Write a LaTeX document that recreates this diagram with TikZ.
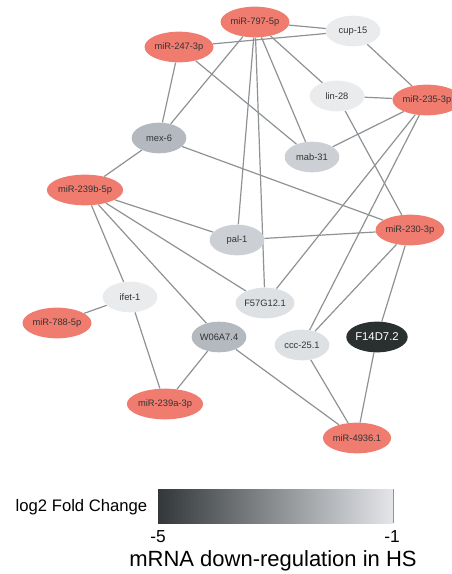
\documentclass[tikz,border=0pt]{standalone}
\usepackage{fontspec}
\setmainfont{Liberation Sans}
\usetikzlibrary{shapes, backgrounds}
\definecolor{mirred}{RGB}{240, 124, 112}
\definecolor{edgegray}{RGB}{142, 146, 149}
\definecolor{fcdark}{RGB}{42, 47, 48}
\definecolor{fcmid}{RGB}{180, 185, 191}
\definecolor{fclow}{RGB}{204, 208, 212}
\definecolor{fcpale}{RGB}{222, 225, 228}
\definecolor{fcwhite}{RGB}{233, 235, 237}
\definecolor{barleft}{RGB}{50, 55, 57}
\definecolor{barright}{RGB}{228, 230, 234}
\tikzset{
  gene/.style={ellipse, minimum width=41pt, minimum height=23pt, inner sep=0pt, font=\fontsize{7}{8}\selectfont, text=black!80},
  mirna/.style={gene, fill=mirred},
  link/.style={draw=edgegray, line width=0.9pt}
}

\begin{document}
\begin{tikzpicture}[x=0.75pt, y=-0.75pt]
  \useasboundingbox (0, 0) rectangle (451, 574);

  % microRNAs
  \node[mirna] (m797) at (255, 22) {miR-797-5p};
  \node[mirna] (m247) at (179, 47) {miR-247-3p};
  \node[mirna] (m235) at (427, 100) {miR-235-3p};
  \node[mirna] (m239b) at (85, 190) {miR-239b-5p};
  \node[mirna] (m230) at (410, 230) {miR-230-3p};
  \node[mirna] (m788) at (57, 323) {miR-788-5p};
  \node[mirna] (m239a) at (165, 404) {miR-239a-3p};
  \node[mirna] (m4936) at (357, 438) {miR-4936.1};

  % target mRNAs, shaded by fold change
  \node[gene, fill=fcwhite] (cup) at (353, 31) {cup-15};
  \node[gene, fill=fcwhite] (lin) at (337, 96) {lin-28};
  \node[gene, fill=fcmid] (mex) at (159, 138) {mex-6};
  \node[gene, fill=fclow] (mab) at (312, 157) {mab-31};
  \node[gene, fill=fclow] (pal) at (237, 240) {pal-1};
  \node[gene, fill=fcwhite] (ifet) at (130, 297) {ifet-1};
  \node[gene, fill=fcpale] (f57) at (265, 303) {F57G12.1};
  \node[gene, fill=fcmid] (w06) at (219, 337) {W06A7.4};
  \node[gene, fill=fcpale] (ccc) at (302, 345) {ccc-25.1};
  \node[gene, fill=fcdark, text=white, font=\fontsize{8.5}{10}\selectfont] (f14) at (377, 337) {F14D7.2};

  % interactions
  \begin{scope}[on background layer]
    \foreach \a/\b in {m797/cup, m797/mex, m797/pal, m797/f57, m797/mab, m797/lin,
                       m247/cup, m247/mex, m247/mab,
                       cup/m235, lin/m235, lin/m230,
                       m235/mab, m235/f57, m235/ccc,
                       mex/m239b, mex/m230,
                       m239b/pal, m239b/f57, m239b/w06, m239b/ifet,
                       pal/m230, m230/ccc, m230/f14,
                       ifet/m788, ifet/m239a, w06/m239a, w06/m4936,
                       ccc/m4936, f14/m4936}
      \draw[link] (\a) -- (\b);
  \end{scope}

  % legend
  \shade[left color=barleft, right color=barright] (158, 489) rectangle (393, 523);
  \draw[edgegray, line width=0.6pt] (393, 489) -- (393, 523);
  \node[anchor=east, font=\fontsize{12.5}{14}\selectfont] (legtitle) at (152, 507) {log2 Fold Change};
  \node[font=\fontsize{13}{15}\selectfont] (legmin) at (158, 537) {-5};
  \node[font=\fontsize{13}{15}\selectfont] (legmax) at (392, 537) {-1};
  \node[font=\fontsize{16.5}{19}\selectfont] (legcap) at (273, 561) {mRNA down-regulation in HS};
\end{tikzpicture}
\end{document}
